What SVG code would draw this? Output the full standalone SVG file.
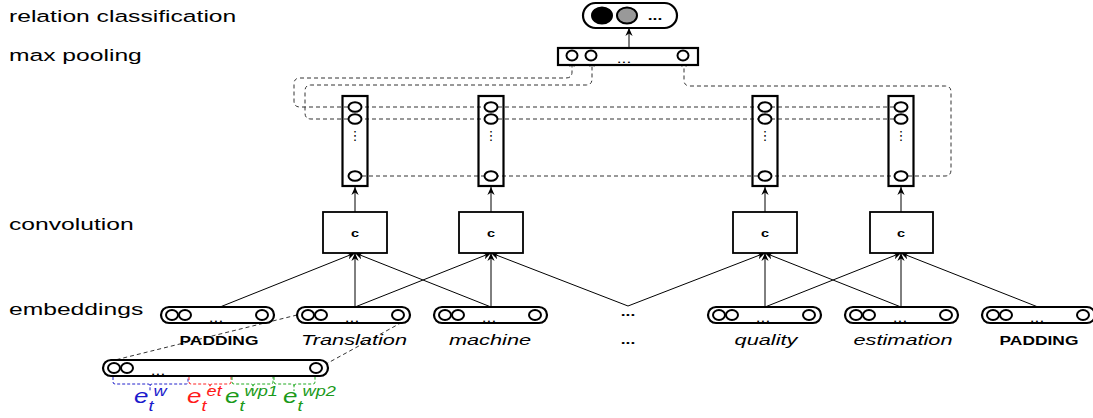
<svg xmlns="http://www.w3.org/2000/svg" width="1093" height="418" viewBox="0 0 1093 418">
<defs>
<style>
.lbl{font-family:"Liberation Sans",Arial,sans-serif;font-size:17px;fill:#000}
.wrd{font-family:"Liberation Sans",Arial,sans-serif;font-size:15px;font-style:italic;fill:#000;text-anchor:middle}
.pad{font-family:"Liberation Sans",Arial,sans-serif;font-size:12px;font-weight:bold;fill:#000;text-anchor:middle}
.dots{font-family:"Liberation Sans",Arial,sans-serif;font-size:12px;fill:#000;text-anchor:middle}
.vd{font-family:"DejaVu Sans",sans-serif;font-size:13px;fill:#000;text-anchor:middle}
.cl{font-family:"Liberation Sans",Arial,sans-serif;font-size:10px;font-weight:bold;fill:#000;text-anchor:middle}
.e{font-family:"Liberation Sans",Arial,sans-serif;font-size:20px;font-style:italic}
.pill{fill:#fff;stroke:#000;stroke-width:2.2}
.circ{fill:#fff;stroke:#000;stroke-width:2}
.col{fill:none;stroke:#000;stroke-width:2.2}
.conv{fill:#fff;stroke:#000;stroke-width:1.8}
.edge{stroke:#000;stroke-width:1;fill:none}
.dash{stroke:#333;stroke-width:1;stroke-dasharray:4 3;fill:none}
.brace{stroke-width:1;stroke-dasharray:3 2;fill:none}
</style>
<marker id="arr" viewBox="0 0 10 10" refX="10" refY="5" markerWidth="8" markerHeight="8" orient="auto" markerUnits="userSpaceOnUse">
<path d="M0,0.5 L10,5 L0,9.5 L3,5 z" fill="#000"/>
</marker>
<marker id="arrs" viewBox="0 0 10 10" refX="10" refY="5" markerWidth="6" markerHeight="6" orient="auto" markerUnits="userSpaceOnUse">
<path d="M0,0.5 L10,5 L0,9.5 L3,5 z" fill="#000"/>
</marker>
</defs>

<g id="layer-labels">
<text class="lbl" transform="translate(9,22) scale(1.45,1)">relation classification</text>
<text class="lbl" transform="translate(9,61) scale(1.45,1)">max pooling</text>
<text class="lbl" transform="translate(9,230) scale(1.45,1)">convolution</text>
<text class="lbl" transform="translate(9,315) scale(1.45,1)">embeddings</text>
</g>

<g id="connectors">
<path class="edge" d="M629,48 L629,28" marker-end="url(#arr)"/>
<path class="dash" d="M901,107 L300,107 Q294,107 294,101 L294,84 Q294,78 300,78 L566,78 Q572,78 572,72 L572,61" marker-end="url(#arrs)"/>
<path class="dash" d="M901,119 L311,119 Q305,119 305,113 L305,91 Q305,85 311,85 L586,85 Q592,85 592,79 L592,61" marker-end="url(#arrs)"/>
<path class="dash" d="M355,176 L945,176 Q951,176 951,170 L951,92 Q951,86 945,86 L690,86 Q684,86 684,80 L684,61" marker-end="url(#arrs)"/>
<path class="edge" d="M355,212 L355,187" marker-end="url(#arr)"/>
<path class="edge" d="M491,212 L491,187" marker-end="url(#arr)"/>
<path class="edge" d="M765,212 L765,187" marker-end="url(#arr)"/>
<path class="edge" d="M901,212 L901,187" marker-end="url(#arr)"/>
<path class="edge" d="M220,307 L355,253" marker-end="url(#arr)"/>
<path class="edge" d="M355,307 L355,253" marker-end="url(#arr)"/>
<path class="edge" d="M491,307 L355,253" marker-end="url(#arr)"/>
<path class="edge" d="M355,307 L491,253" marker-end="url(#arr)"/>
<path class="edge" d="M491,307 L491,253" marker-end="url(#arr)"/>
<path class="edge" d="M628,306 L491,253" marker-end="url(#arr)"/>
<path class="edge" d="M628,306 L765,253" marker-end="url(#arr)"/>
<path class="edge" d="M765,307 L765,253" marker-end="url(#arr)"/>
<path class="edge" d="M901,307 L765,253" marker-end="url(#arr)"/>
<path class="edge" d="M765,307 L901,253" marker-end="url(#arr)"/>
<path class="edge" d="M901,307 L901,253" marker-end="url(#arr)"/>
<path class="edge" d="M1038,307 L901,253" marker-end="url(#arr)"/>
<path class="dash" d="M297,315 L107,362"/>
<path class="dash" d="M408,319 L326,364"/>
</g>

<g id="node-relation">
<rect class="pill" x="583" y="3" width="94" height="25" rx="12.5"/>
<ellipse cx="602" cy="15.5" rx="10" ry="8" fill="#000" stroke="#000" stroke-width="2"/>
<ellipse cx="627" cy="15.5" rx="10" ry="8" fill="#999" stroke="#000" stroke-width="2"/>
<text class="dots" font-weight="bold" font-size="13" transform="translate(655,20) scale(1.45,1)">...</text>
</g>

<g id="node-maxpool">
<rect x="558" y="48" width="140" height="17" fill="#fff" stroke="#000" stroke-width="2.2"/>
<ellipse class="circ" cx="572" cy="55.5" rx="5.5" ry="5"/>
<ellipse class="circ" cx="591" cy="55.5" rx="5.5" ry="5"/>
<ellipse class="circ" cx="683" cy="55.5" rx="5.5" ry="5"/>
<text class="dots" transform="translate(624,63) scale(1.45,1)">...</text>
</g>

<g id="node-col1">
<rect class="col" x="342.5" y="96" width="25" height="90"/>
<ellipse class="circ" cx="355" cy="107" rx="6.5" ry="4.8"/>
<ellipse class="circ" cx="355" cy="119" rx="6.5" ry="4.8"/>
<text class="vd" x="355" y="140">⋮</text>
<ellipse class="circ" cx="355" cy="176" rx="6.5" ry="4.8"/>
</g>
<g id="node-col2">
<rect class="col" x="478.5" y="96" width="25" height="90"/>
<ellipse class="circ" cx="491" cy="107" rx="6.5" ry="4.8"/>
<ellipse class="circ" cx="491" cy="119" rx="6.5" ry="4.8"/>
<text class="vd" x="491" y="140">⋮</text>
<ellipse class="circ" cx="491" cy="176" rx="6.5" ry="4.8"/>
</g>
<g id="node-col3">
<rect class="col" x="752.5" y="96" width="25" height="90"/>
<ellipse class="circ" cx="765" cy="107" rx="6.5" ry="4.8"/>
<ellipse class="circ" cx="765" cy="119" rx="6.5" ry="4.8"/>
<text class="vd" x="765" y="140">⋮</text>
<ellipse class="circ" cx="765" cy="176" rx="6.5" ry="4.8"/>
</g>
<g id="node-col4">
<rect class="col" x="888.5" y="96" width="25" height="90"/>
<ellipse class="circ" cx="901" cy="107" rx="6.5" ry="4.8"/>
<ellipse class="circ" cx="901" cy="119" rx="6.5" ry="4.8"/>
<text class="vd" x="901" y="140">⋮</text>
<ellipse class="circ" cx="901" cy="176" rx="6.5" ry="4.8"/>
</g>

<g id="node-conv1"><rect class="conv" x="323" y="212" width="64" height="41"/><text class="cl" transform="translate(355,237) scale(1.45,1)">c</text></g>
<g id="node-conv2"><rect class="conv" x="459" y="212" width="64" height="41"/><text class="cl" transform="translate(491,237) scale(1.45,1)">c</text></g>
<g id="node-conv3"><rect class="conv" x="733" y="212" width="64" height="41"/><text class="cl" transform="translate(765,237) scale(1.45,1)">c</text></g>
<g id="node-conv4"><rect class="conv" x="870" y="212" width="63" height="41"/><text class="cl" transform="translate(901,237) scale(1.45,1)">c</text></g>

<g id="node-emb1">
<rect class="pill" x="161" y="307" width="113" height="16" rx="8"/>
<ellipse class="circ" cx="172" cy="315" rx="6" ry="5"/>
<ellipse class="circ" cx="185" cy="315" rx="6" ry="5"/>
<text class="dots" transform="translate(216,322) scale(1.45,1)">...</text>
<ellipse class="circ" cx="262" cy="315" rx="6" ry="5"/>
<text class="pad" transform="translate(219,345) scale(1.45,1)">PADDING</text>
</g>
<g id="node-emb2">
<rect class="pill" x="297" y="307" width="113" height="16" rx="8"/>
<ellipse class="circ" cx="308" cy="315" rx="6" ry="5"/>
<ellipse class="circ" cx="321" cy="315" rx="6" ry="5"/>
<text class="dots" transform="translate(352,322) scale(1.45,1)">...</text>
<ellipse class="circ" cx="398" cy="315" rx="6" ry="5"/>
<text class="wrd" transform="translate(354,345) scale(1.45,1)">Translation</text>
</g>
<g id="node-emb3">
<rect class="pill" x="434" y="307" width="113" height="16" rx="8"/>
<ellipse class="circ" cx="445" cy="315" rx="6" ry="5"/>
<ellipse class="circ" cx="458" cy="315" rx="6" ry="5"/>
<text class="dots" transform="translate(489,322) scale(1.45,1)">...</text>
<ellipse class="circ" cx="535" cy="315" rx="6" ry="5"/>
<text class="wrd" transform="translate(490,345) scale(1.45,1)">machine</text>
</g>
<g id="node-ellipsis">
<text class="dots" font-weight="bold" transform="translate(628,316) scale(1.45,1)">...</text>
<text class="dots" font-weight="bold" transform="translate(628,344) scale(1.45,1)">...</text>
</g>
<g id="node-emb4">
<rect class="pill" x="708" y="307" width="113" height="16" rx="8"/>
<ellipse class="circ" cx="719" cy="315" rx="6" ry="5"/>
<ellipse class="circ" cx="732" cy="315" rx="6" ry="5"/>
<text class="dots" transform="translate(763,322) scale(1.45,1)">...</text>
<ellipse class="circ" cx="809" cy="315" rx="6" ry="5"/>
<text class="wrd" transform="translate(766,345) scale(1.45,1)">quality</text>
</g>
<g id="node-emb5">
<rect class="pill" x="845" y="307" width="113" height="16" rx="8"/>
<ellipse class="circ" cx="856" cy="315" rx="6" ry="5"/>
<ellipse class="circ" cx="869" cy="315" rx="6" ry="5"/>
<text class="dots" transform="translate(900,322) scale(1.45,1)">...</text>
<ellipse class="circ" cx="946" cy="315" rx="6" ry="5"/>
<text class="wrd" transform="translate(903,345) scale(1.45,1)">estimation</text>
</g>
<g id="node-emb6">
<rect class="pill" x="982" y="307" width="113" height="16" rx="8"/>
<ellipse class="circ" cx="993" cy="315" rx="6" ry="5"/>
<ellipse class="circ" cx="1006" cy="315" rx="6" ry="5"/>
<text class="dots" transform="translate(1037,322) scale(1.45,1)">...</text>
<ellipse class="circ" cx="1083" cy="315" rx="6" ry="5"/>
<text class="pad" transform="translate(1039,345) scale(1.45,1)">PADDING</text>
</g>

<g id="node-expansion">
<rect class="pill" x="103" y="360" width="225" height="16" rx="8"/>
<ellipse class="circ" cx="114" cy="368" rx="6" ry="5"/>
<ellipse class="circ" cx="127" cy="368" rx="6" ry="5"/>
<text class="dots" transform="translate(158,375) scale(1.45,1)">...</text>
<ellipse class="circ" cx="316" cy="368" rx="6" ry="5"/>
<path class="brace" stroke="#2222cc" d="M113,377 L113,382 Q113,384 115,384 L148,384 Q150,384 150,386 L150,391 M150,386 Q150,384 152,384 L186,384 Q188,384 188,382 L188,377"/>
<path class="brace" stroke="#ff2222" d="M189,377 L189,382 Q189,384 191,384 L208,384 Q210,384 210,386 L210,391 M210,386 Q210,384 212,384 L229,384 Q231,384 231,382 L231,377"/>
<path class="brace" stroke="#22aa22" d="M232,377 L232,382 Q232,384 234,384 L251,384 Q253,384 253,386 L253,391 M253,386 Q253,384 255,384 L271,384 Q273,384 273,382 L273,377"/>
<path class="brace" stroke="#22aa22" d="M274,377 L274,382 Q274,384 276,384 L292,384 Q294,384 294,386 L294,391 M294,386 Q294,384 296,384 L313,384 Q315,384 315,382 L315,377"/>
<text class="e" fill="#1a1acc" transform="translate(134,403) scale(1.3,1)">e<tspan font-size="14" dy="8">t</tspan><tspan font-size="14" dy="-15">w</tspan></text>
<text class="e" fill="#ff1a1a" transform="translate(187,403) scale(1.3,1)">e<tspan font-size="14" dy="8">t</tspan><tspan font-size="14" dy="-15">et</tspan></text>
<text class="e" fill="#1a9a1a" transform="translate(225,403) scale(1.3,1)">e<tspan font-size="14" dy="8">t</tspan><tspan font-size="14" dy="-15">wp1</tspan></text>
<text class="e" fill="#1a9a1a" transform="translate(283,403) scale(1.3,1)">e<tspan font-size="14" dy="8">t</tspan><tspan font-size="14" dy="-15">wp2</tspan></text>
</g>
</svg>
